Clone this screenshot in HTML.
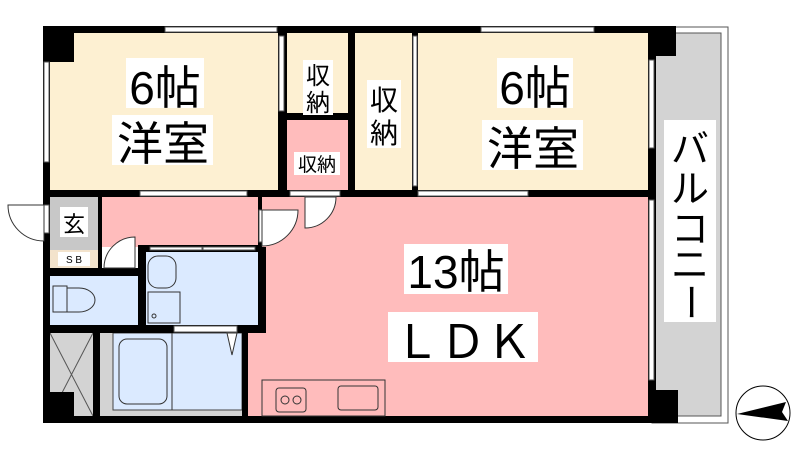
<!DOCTYPE html>
<html><head><meta charset="utf-8"><style>
html,body{margin:0;padding:0;background:#fff;width:800px;height:450px;overflow:hidden}
svg{display:block}
text{font-family:"Liberation Sans","Noto Sans CJK JP",sans-serif;fill:#000}
</style></head><body>
<svg width="800" height="450" viewBox="0 0 800 450" xmlns="http://www.w3.org/2000/svg">
<!-- balcony -->
<rect x="652" y="27" width="76" height="396" fill="#fff" stroke="#555" stroke-width="1"/>
<rect x="655" y="33" width="66" height="383" fill="#d3d3d3" stroke="#555" stroke-width="1"/>
<!-- rooms -->
<rect x="50" y="33" width="228" height="157" fill="#fdf0d2"/>
<rect x="287" y="33" width="61" height="80" fill="#fdf0d2"/>
<rect x="287" y="120" width="61" height="70" fill="#ffbcbc"/>
<rect x="355" y="33" width="57" height="157" fill="#fdf0d2"/>
<rect x="418" y="33" width="230" height="157" fill="#fdf0d2"/>
<rect x="262" y="197" width="386" height="219" fill="#ffbcbc"/>
<rect x="98" y="197" width="164" height="50" fill="#ffbcbc"/>
<rect x="242" y="247" width="20" height="169" fill="#ffbcbc"/>
<rect x="50" y="197" width="48" height="53" fill="#c8c8c8"/>
<rect x="50" y="250" width="48" height="18" fill="#f3e3cc"/>
<rect x="50" y="276" width="88" height="49" fill="#dbeaff"/>
<rect x="146" y="252" width="112" height="73" fill="#dbeaff"/>
<rect x="100" y="333" width="142" height="83" fill="#d3d3d3"/>
<rect x="113" y="333" width="129" height="77" fill="#dbeaff" stroke="#444" stroke-width="1"/>
<rect x="50" y="333" width="43" height="83" fill="#d3d3d3"/>
<line x1="50" y1="333" x2="93" y2="416" stroke="#555"/><line x1="93" y1="333" x2="50" y2="416" stroke="#555"/>
<rect x="50" y="392" width="24" height="24" fill="#000"/>
<!-- walls -->
<g fill="#000">
<rect x="43" y="26" width="613" height="7"/>
<rect x="43" y="26" width="7" height="397"/>
<rect x="43" y="416" width="613" height="7"/>
<rect x="43" y="26" width="31" height="36"/>
<rect x="648" y="26" width="28" height="30"/>
<rect x="648" y="26" width="8" height="397"/>
<rect x="648" y="390" width="30" height="33"/>
<rect x="43" y="190" width="605" height="7"/>
<rect x="278" y="26" width="9" height="171"/>
<rect x="348" y="26" width="7" height="171"/>
<rect x="412" y="26" width="6" height="171"/>
<rect x="287" y="113" width="61" height="7"/>
<rect x="258" y="197" width="4" height="50"/>
<rect x="258" y="247" width="8" height="84"/>
<rect x="138" y="245" width="8" height="86"/>
<rect x="146" y="245" width="112" height="7"/>
<rect x="50" y="325" width="216" height="8"/>
<rect x="93" y="333" width="7" height="83"/>
<rect x="242" y="333" width="6" height="83"/>
<rect x="50" y="268" width="88" height="8"/>
<rect x="98" y="197" width="4" height="71"/>
</g>
<!-- windows (white gaps) -->
<g fill="#fff" stroke="#555" stroke-width="1">
<rect x="165" y="27" width="112" height="5"/>
<rect x="481" y="27" width="113" height="5"/>
<rect x="44" y="62" width="5" height="100"/>
<rect x="279" y="36" width="5" height="75"/>
<rect x="413" y="36" width="4" height="150"/>
<rect x="649" y="60" width="5" height="88"/>
<rect x="649" y="200" width="5" height="180"/>
<rect x="140" y="191" width="107" height="5"/>
<rect x="418" y="191" width="110" height="5"/>
<rect x="290" y="191" width="50" height="5"/>
<rect x="150" y="247" width="52" height="3"/>
<rect x="203" y="247" width="52" height="3"/>
<rect x="174" y="326" width="63" height="6"/>
<rect x="44" y="205" width="5" height="28"/>
<rect x="259" y="210" width="3" height="32"/>
</g>
<!-- doors -->
<g fill="#fff" stroke="#333" stroke-width="1">
<path d="M44 205 L8 205 A36 36 0 0 0 44 241 Z"/>
<path d="M262 210 L298 210 A36 36 0 0 1 262 246 Z"/>
<path d="M305 197 L305 228 A31 31 0 0 0 336 197 Z"/>
<path d="M104 268 L135 268 L135 237 A31 31 0 0 0 104 268 Z"/>
<path d="M227 333 L237 333 L232 355 Z"/>
</g>
<!-- fixtures -->
<g fill="none" stroke="#333" stroke-width="1">
<rect x="119" y="339" width="48" height="65" rx="8"/>
<line x1="172" y1="333" x2="172" y2="410"/>
<rect x="148" y="256" width="28" height="32" rx="10"/>
<rect x="148" y="292" width="32" height="31"/>
<circle cx="154" cy="316" r="2"/>
<path d="M53 286 h14 v26 h-14 z M67 288 h12 a16 12 0 0 1 0 24 h-12"/>
<rect x="262" y="380" width="123" height="36"/>
<rect x="276" y="388" width="30" height="24" rx="3"/>
<circle cx="285" cy="400" r="4"/><circle cx="297" cy="400" r="4"/>
<rect x="338" y="386" width="40" height="24" rx="3"/>
</g>
<!-- labels -->
<g fill="#fff">
<rect x="126" y="58" width="78" height="50"/><rect x="112" y="115" width="101" height="50"/>
<rect x="497" y="58" width="76" height="50"/><rect x="482" y="120" width="101" height="50"/>
<rect x="303" y="60" width="30" height="55"/><rect x="367" y="80" width="34" height="68"/>
<rect x="294" y="152" width="46" height="23"/>
<rect x="60" y="207" width="28" height="30"/><rect x="58" y="252" width="32" height="14"/>
<rect x="404" y="244" width="104" height="50"/><rect x="388" y="312" width="150" height="50"/>
<rect x="664" y="120" width="52" height="202"/>
</g>
<text x="165" y="104" font-size="46" text-anchor="middle">6帖</text>
<text x="163" y="160" font-size="46" text-anchor="middle">洋室</text>
<text x="535" y="104" font-size="46" text-anchor="middle">6帖</text>
<text x="533" y="165" font-size="46" text-anchor="middle">洋室</text>
<text x="318" y="84" font-size="24" text-anchor="middle">収</text>
<text x="318" y="111" font-size="24" text-anchor="middle">納</text>
<text x="384" y="110" font-size="28" text-anchor="middle">収</text>
<text x="384" y="143" font-size="28" text-anchor="middle">納</text>
<text x="317" y="171" font-size="19" text-anchor="middle">収納</text>
<text x="74" y="232" font-size="22" text-anchor="middle">玄</text>
<text x="74" y="263" font-size="10" text-anchor="middle">S B</text>
<text x="456" y="288" font-size="46" text-anchor="middle">13帖</text>
<text x="463" y="358" font-size="46" text-anchor="middle">ＬＤＫ</text>
<text x="690" y="162" font-size="38" text-anchor="middle">バ</text>
<text x="690" y="202" font-size="38" text-anchor="middle">ル</text>
<text x="690" y="242" font-size="38" text-anchor="middle">コ</text>
<text x="690" y="278" font-size="38" text-anchor="middle">ニ</text>
<text x="0" y="0" font-size="38" text-anchor="middle" transform="translate(677 302) rotate(90)">ー</text>
<!-- compass -->
<circle cx="763" cy="413" r="27" fill="#fff" stroke="#000" stroke-width="1"/>
<path d="M737 414 L786 402 L782 412 L788 421 Z" fill="#000"/>
</svg>
</body></html>
